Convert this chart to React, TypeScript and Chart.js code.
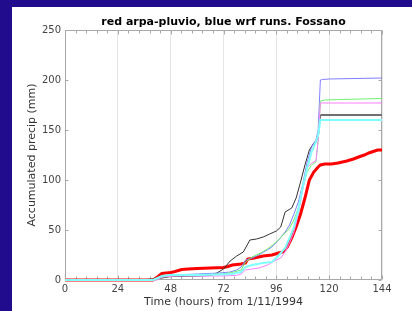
import React, { useEffect, useRef } from "react";
import { Chart, registerables } from "chart.js";
Chart.register(...registerables);

const titleText = "red arpa-pluvio, blue wrf runs. Fossano";
const xTitle = "Time (hours) from 1/11/1994";
const yTitle = "Accumulated precip (mm)";

const redHours = [0, 40, 42, 44, 46, 48, 50, 53, 56, 60, 66, 72, 74, 76, 80, 82, 83, 86, 90, 94, 97, 99, 101, 103, 105, 107, 109, 111, 113, 115, 116, 118, 121, 124, 128, 131, 134, 136, 138, 140, 142, 144];
const redPrecip = [0, 0, 3, 6.5, 7, 7.5, 8.5, 10.5, 11, 11.5, 12, 12.5, 13.5, 15, 16, 17, 21, 22, 24, 25, 27, 28, 33, 42, 53, 66, 82, 100, 108, 113, 115, 116, 116, 117, 119, 121, 123.5, 125, 127, 128.5, 130, 130];

const blackHours = [0, 34, 40, 44, 48, 60, 66, 69, 72, 75, 78, 81, 84, 87, 90, 93, 96, 98, 100, 103, 105, 107, 109, 111, 113, 115, 116, 144];
const blackPrecip = [0, 0, 1, 2, 3.5, 4, 4.5, 7, 11, 19, 24, 28, 40, 41, 43, 46, 49, 53, 68, 72, 82, 98, 115, 130, 137, 141, 165, 165];

const blueHours = [0, 40, 44, 48, 60, 70, 75, 78, 80, 82, 85, 88, 91, 94, 97, 100, 102, 104, 106, 108, 110, 112, 114, 115, 116, 117, 120, 144];
const bluePrecip = [0, 0, 4, 5, 6, 7, 8, 10, 13, 20, 22, 25, 29, 33, 40, 48, 55, 66, 78, 96, 118, 133, 140, 150, 200, 200.5, 201, 202];

const greenHours = [0, 41, 44, 48, 60, 70, 75, 80, 82, 85, 88, 92, 96, 100, 102, 104, 106, 108, 110, 112, 114, 115, 116, 118, 125, 144];
const greenPrecip = [0, 0, 3, 4, 5, 6, 7, 10, 18, 23, 26, 31, 38, 47, 52, 60, 72, 92, 108, 115, 118, 140, 179, 180, 180.5, 181.5];

const magentaHours = [0, 42, 44, 50, 70, 78, 80, 82, 85, 88, 92, 96, 98, 100, 102, 104, 106, 108, 110, 112, 114, 115, 116, 144];
const magentaPrecip = [0, 0, 3, 4, 4, 4.5, 6, 10, 11, 12, 15, 20, 22, 28, 37, 48, 66, 90, 112, 117, 119, 140, 177, 177];

const cyanHours = [0, 40, 44, 48, 60, 70, 76, 80, 82, 85, 90, 94, 96, 98, 100, 102, 104, 106, 108, 110, 112, 114, 115, 116, 144];
const cyanPrecip = [0, 0, 4, 5, 5, 5.5, 6, 8, 13, 15, 17, 18, 22, 27, 32, 42, 53, 70, 93, 112, 128, 138, 145, 160, 160];

const xTickStep = 24;
const yTickStep = 50;

const pts = (xs: number[], ys: number[]) => xs.map((x, i) => ({ x, y: ys[i] }));

const AXIS = "#a8a8a8";
const FONT = "DejaVu Sans";

const framePlugin = {
  id: "frame",
  beforeDatasetsDraw(chart: any) {
    const { ctx, chartArea: a, scales } = chart;
    const x = scales.x, y = scales.y;
    ctx.save();
    ctx.strokeStyle = AXIS;
    ctx.lineWidth = 1;
    const L = Math.round(a.left) + 0.5, R = Math.round(a.right) - 0.5;
    const T = Math.round(a.top) + 0.5, B = Math.round(a.bottom) - 0.5;
    ctx.beginPath();
    ctx.rect(L, T, R - L, B - T);
    for (let i = 0; i <= 30; i++) {
      const px = Math.round(x.getPixelForValue(i * 4.8)) + 0.5;
      const len = i % 5 === 0 ? 4 : 3;
      ctx.moveTo(px, T); ctx.lineTo(px, T + len);
      ctx.moveTo(px, B); ctx.lineTo(px, B - len);
    }
    for (let v = 0; v <= 250; v += yTickStep) {
      const py = Math.round(y.getPixelForValue(v)) + 0.5;
      ctx.moveTo(L, py); ctx.lineTo(L + 3, py);
      ctx.moveTo(R, py); ctx.lineTo(R - 3, py);
    }
    ctx.stroke();
    ctx.fillStyle = "#000";
    ctx.font = `bold 11px "${FONT}"`;
    ctx.textAlign = "center";
    ctx.textBaseline = "middle";
    ctx.fillText(titleText, (a.left + a.right) / 2, 15);
    ctx.restore();
  },
};

export default function App() {
  const ref = useRef<HTMLCanvasElement>(null);
  useEffect(() => {
    document.body.style.margin = "0";
    const mk = (label: string, xs: number[], ys: number[], color: string, w: number, extra: any = {}) => ({
      label, data: pts(xs, ys), borderColor: color, borderWidth: w,
      pointRadius: 0, fill: false, tension: 0, clip: false as any, ...extra,
    });
    const chart = new Chart(ref.current!, {
      type: "line",
      data: {
        datasets: [
          mk("cyan", cyanHours, cyanPrecip, "#80ffff", 2),
          mk("magenta", magentaHours, magentaPrecip, "#ff80ff", 1),
          mk("green", greenHours, greenPrecip, "#70f070", 1),
          mk("blue", blueHours, bluePrecip, "#7f7fff", 1),
          mk("black", blackHours, blackPrecip, "#333333", 1, {
            segment: {
              borderColor: (c: any) => (c.p0.parsed.x >= 116 ? "#707070" : undefined),
              borderWidth: (c: any) => (c.p0.parsed.x >= 116 ? 2 : undefined),
            },
          }),
          mk("red", redHours, redPrecip, "#ff0000", 3),
        ],
      },
      options: {
        responsive: false,
        animation: false,
        layout: { padding: { top: 23, right: 30, left: 0, bottom: 0 } },
        plugins: { legend: { display: false }, tooltip: { enabled: false }, title: { display: false } },
        scales: {
          x: {
            type: "linear", min: 0, max: 144,
            ticks: { stepSize: xTickStep, color: "#444", font: { family: FONT, size: 10 }, padding: 3, maxRotation: 0 },
            grid: { color: "#e6e6e6", drawTicks: false },
            border: { display: false },
            title: { display: true, text: xTitle, color: "#333", font: { family: FONT, size: 11 }, padding: { top: 0, bottom: 2 } },
            afterFit: (s: any) => { s.height = 31; },
          },
          y: {
            type: "linear", min: 0, max: 250,
            ticks: { stepSize: yTickStep, color: "#444", font: { family: FONT, size: 10 }, padding: 4 },
            grid: { display: false, drawTicks: false },
            border: { display: false },
            title: { display: true, text: yTitle, color: "#333", font: { family: FONT, size: 11 }, padding: { top: 14, bottom: 0 } },
            afterFit: (s: any) => { s.width = 53; },
          },
        },
      } as any,
      plugins: [framePlugin],
    });
    return () => chart.destroy();
  }, []);
  return (
    <div style={{ position: "relative", width: 412, height: 311, background: "#200c8c", overflow: "hidden" }}>
      <div style={{ position: "absolute", left: 12, top: 7, width: 400, height: 304, background: "#fff" }}>
        <canvas ref={ref} width={400} height={304} style={{ display: "block" }} />
      </div>
    </div>
  );
}
